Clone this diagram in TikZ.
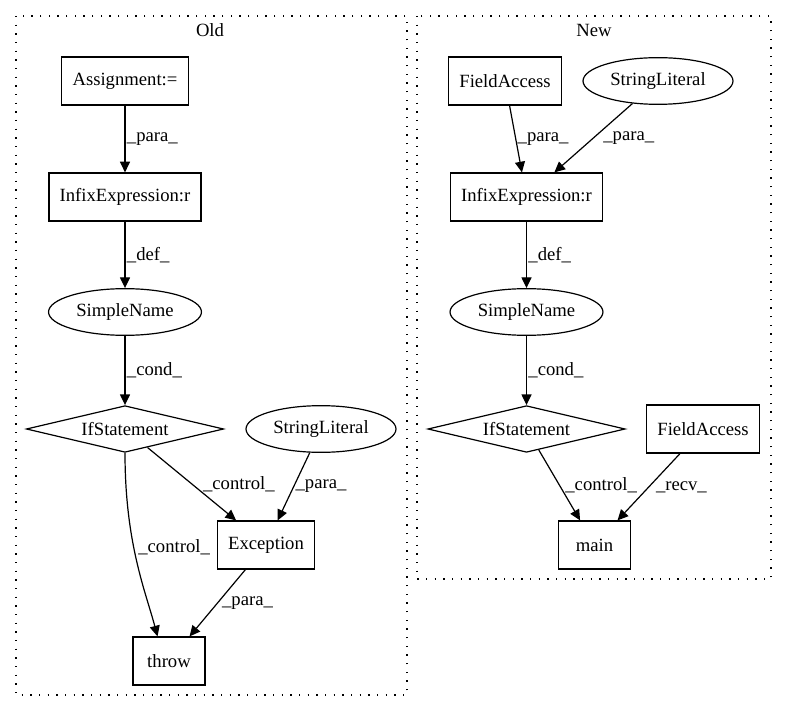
\documentclass[tikz,border=0pt]{standalone}
\usepackage{fontspec}
\setmainfont{Liberation Serif}
\usetikzlibrary{shapes.geometric, arrows.meta}
\definecolor{BLACK}{HTML}{000000}
\tikzset{
    txt/.style={font=\fontsize{14}{16}\selectfont},
    box/.style={txt, draw=BLACK, rectangle, line width=0.9pt, minimum width=54pt, minimum height=36pt, inner xsep=8pt},
    oval/.style={txt, draw=BLACK, ellipse, line width=0.9pt, minimum height=35pt, inner xsep=4pt},
    decision/.style={txt, draw=BLACK, diamond, aspect=4, inner sep=0pt, line width=0.9pt, minimum width=148pt, minimum height=35pt},
    flow/.style={BLACK, line width=0.9pt, -{Triangle[length=8pt, width=7.5pt]}},
    lbl/.style={txt, inner sep=1pt, anchor=west},
    cluster/.style={draw=BLACK, line width=1pt, dash pattern=on 1pt off 5.5pt}
}
\begin{document}
\begin{tikzpicture}[x=0.75pt, y=-0.75pt]
    \useasboundingbox (0,0) rectangle (787,712);
    % Old
    \draw[cluster] (16,16) rectangle (407,695);
    \node[txt] (oldtitle) at (210,30) {Old};
    \node[box] (assign) at (125,81) {Assignment:=};
    \node[box] (infixold) at (125,197) {InfixExpression:r};
    \node[oval] (nameold) at (125,312) {SimpleName};
    \node[decision] (ifold) at (125,429) {IfStatement};
    \node[oval] (strold) at (321,429) {StringLiteral};
    \node[box] (exc) at (266,545) {Exception};
    \node[box] (throw) at (169,661) {throw};
    \draw[flow] (assign) -- (infixold) node[lbl, midway] {\_para\_};
    \draw[flow] (infixold) -- (nameold) node[lbl, midway] {\_def\_};
    \draw[flow] (nameold) -- (ifold) node[lbl, midway] {\_cond\_};
    \draw[flow] (ifold) -- (exc) node[lbl, midway, xshift=7pt] {\_control\_};
    \draw[flow] (strold) -- (exc) node[lbl, midway] {\_para\_};
    \draw[flow] (ifold.south) .. controls +(0,90) and +(-12,-45) .. (throw.115) node[lbl, pos=0.42, xshift=2pt] {\_control\_};
    \draw[flow] (exc) -- (throw) node[lbl, midway, xshift=2pt] {\_para\_};
    % New
    \draw[cluster] (417,16) rectangle (771,579);
    \node[txt] (newtitle) at (594,30) {New};
    \node[box] (fieldtop) at (505,81) {FieldAccess};
    \node[oval] (strnew) at (658,81) {StringLiteral};
    \node[box] (infixnew) at (526.5,197) {InfixExpression:r};
    \node[oval] (namenew) at (526.5,312) {SimpleName};
    \node[decision] (ifnew) at (526.5,429) {IfStatement};
    \node[box] (fieldlow) at (703,429) {FieldAccess};
    \node[box] (main) at (594.5,545) {main};
    \draw[flow] (fieldtop) -- (infixnew) node[lbl, midway] {\_para\_};
    \draw[flow] (strnew) -- (infixnew) node[lbl, midway, xshift=6pt] {\_para\_};
    \draw[flow] (infixnew) -- (namenew) node[lbl, midway] {\_def\_};
    \draw[flow] (namenew) -- (ifnew) node[lbl, midway] {\_cond\_};
    \draw[flow] (ifnew) -- (main) node[lbl, midway, xshift=3pt] {\_control\_};
    \draw[flow] (fieldlow) -- (main) node[lbl, midway, xshift=4pt] {\_recv\_};
\end{tikzpicture}
\end{document}
